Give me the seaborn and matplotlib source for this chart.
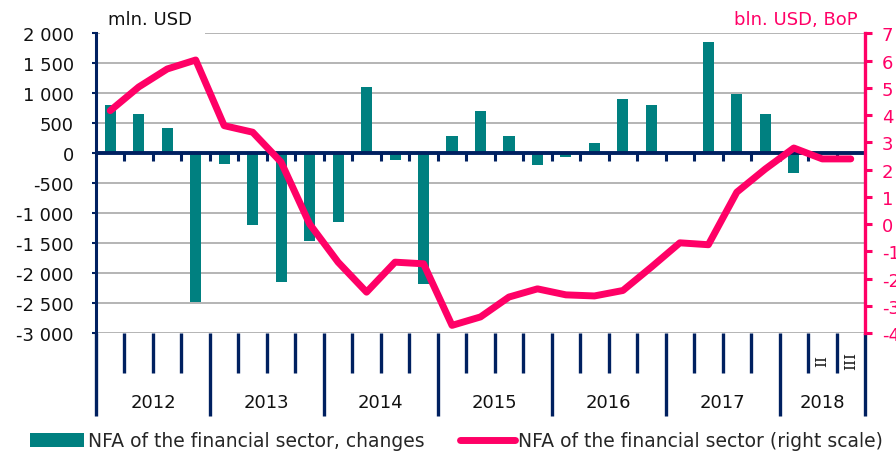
import matplotlib
matplotlib.use("Agg")
import matplotlib.pyplot as plt
import matplotlib.ticker as mticker
from matplotlib.patches import Rectangle
from matplotlib.transforms import blended_transform_factory
import numpy as np
import pandas as pd
import seaborn as sns

# Quarterly data, 2012 Q1 - 2018 Q3
years = ["2012", "2013", "2014", "2015", "2016", "2017", "2018"]
quarters_per_year = [4, 4, 4, 4, 4, 4, 3]
last_year_quarter_labels = ["", "II", "III"]

# NFA of the financial sector, quarterly changes (mln. USD, left scale)
nfa_changes = [800, 650, 420, -2480,
               -180, -1200, -2150, -1470,
               -1140, 1100, -120, -2180,
               280, 700, 290, -200,
               -60, 170, 910, 810,
               0, 1860, 980, 650,
               -330, 0, 0]

# NFA of the financial sector, stock (bln. USD, BoP, right scale)
nfa_stock = [4.16, 5.03, 5.69, 6.02,
             3.61, 3.37, 2.27, 0.00,
             -1.40, -2.50, -1.40, -1.46,
             -3.72, -3.41, -2.68, -2.38,
             -2.60, -2.64, -2.44, -1.58,
             -0.69, -0.76, 1.17, 2.02,
             2.79, 2.39, 2.39]

left_ticks = list(range(-3000, 2001, 500))
right_ticks = list(range(-4, 8))

bar_label = "NFA of the financial sector, changes"
line_label = "NFA of the financial sector (right scale)"

TEAL = "#008080"
PINK = "#FF0066"
NAVY = "#002060"
GRID = "#a0a0a0"
FS = 13

sns.set_style("white")
plt.rcParams["font.family"] = ["DejaVu Sans"]
plt.rcParams["axes.unicode_minus"] = False

fig = plt.figure(figsize=(8.96, 4.56), dpi=100)
W, H = 896, 456
ax = fig.add_axes([96 / W, 1 - 334 / H, (865 - 96) / W, (334 - 34.3) / H])

n = len(nfa_changes)
df = pd.DataFrame({"q": np.arange(n), "changes": nfa_changes, "stock": nfa_stock})

sns.barplot(data=df, x="q", y="changes", native_scale=True, width=0.39,
            color=TEAL, saturation=1, linewidth=0, errorbar=None,
            label=bar_label, ax=ax, zorder=3)

ax.set_ylim(-3000, 2000)
ax.set_yticks(left_ticks)
ax.yaxis.set_major_formatter(
    mticker.FuncFormatter(lambda v, p: f"{int(v):,}".replace(",", " ")))
ax.yaxis.grid(True, color=GRID, lw=1.1)
ax.xaxis.grid(False)
ax.set_axisbelow(True)

# zero line with short quarter ticks below it
ax.axhline(0, color=NAVY, lw=2.8, zorder=4)
ax.vlines(np.arange(n - 1) + 0.5, -130, 0, color=NAVY, lw=2.2, zorder=4)

# quarter / year separators under the plot
bounds = np.concatenate([[0], np.cumsum(quarters_per_year)]) - 0.5
minor = [b for b in np.arange(n + 1) - 0.5 if b not in set(bounds)]
ax.set_xticks(bounds)
ax.set_xticks(minor, minor=True)
ax.tick_params(axis="x", which="both", bottom=True, top=False,
               labelbottom=False, direction="out")
ax.tick_params(axis="x", which="major", length=60, width=2.4, color=NAVY)
ax.tick_params(axis="x", which="minor", length=29, width=2.4, color=NAVY)
ax.tick_params(axis="y", left=True, right=False, direction="out", length=3,
               width=1.5, color=NAVY, pad=13, labelsize=FS,
               labelcolor="#111111")

for side in ("top", "right", "bottom"):
    ax.spines[side].set_visible(False)
ax.spines["left"].set_color(NAVY)
ax.spines["left"].set_linewidth(2.2)
ax.set_xlabel("")
ax.set_ylabel("")

# year and quarter labels
trans = blended_transform_factory(ax.transData, ax.transAxes)
start = 0
for yr, cnt in zip(years, quarters_per_year):
    ax.text(start + (cnt - 1) / 2, -0.23, yr, transform=trans, ha="center",
            va="center", fontsize=FS, color="#111111")
    start += cnt
last_start = n - quarters_per_year[-1]
for i, lab in enumerate(last_year_quarter_labels):
    if lab:
        ax.text(last_start + i, -0.09, lab, transform=trans, rotation=90,
                ha="center", va="center", fontsize=11, color="#111111",
                family=["DejaVu Serif"])

# right scale line
ax2 = ax.twinx()
sns.lineplot(data=df, x="q", y="stock", color=PINK, lw=5, ax=ax2,
             label=line_label, solid_capstyle="round", zorder=5)
ax2.set_ylim(-4, 7)
ax2.set_yticks(right_ticks)
ax2.tick_params(axis="y", right=True, left=False, direction="out",
                colors=PINK, length=5, width=2.2, pad=7, labelsize=FS)
ax2.grid(False)
for side in ("top", "left", "bottom"):
    ax2.spines[side].set_visible(False)
ax2.spines["right"].set_color(PINK)
ax2.spines["right"].set_linewidth(2.4)
ax2.set_ylabel("")
ax2.set_xlabel("")
ax.set_xlim(-0.5, n - 0.5)

for a in (ax, ax2):
    if a.get_legend() is not None:
        a.get_legend().remove()

h1, l1 = ax.get_legend_handles_labels()
h2, l2 = ax2.get_legend_handles_labels()
fig.legend(h1 + h2, l1 + l2, loc="center left",
           bbox_to_anchor=(30 / W, 1 - 442 / H), ncol=2, frameon=False,
           fontsize=13.5, handlelength=2.9, handletextpad=0.2,
           columnspacing=1.9, borderpad=0, borderaxespad=0)

# unit captions
fig.add_artist(Rectangle((100 / W, 1 - 37 / H), 105 / W, 37 / H,
                         transform=fig.transFigure, facecolor="white",
                         edgecolor="none", zorder=1))
fig.text(108 / W, 1 - 20 / H, "mln. USD", ha="left", va="center",
         fontsize=FS, color="#111111", zorder=2)
fig.text(858 / W, 1 - 20 / H, "bln. USD, BoP", ha="right", va="center",
         fontsize=FS, color=PINK, zorder=2)

fig.savefig("out.png", dpi=100)
